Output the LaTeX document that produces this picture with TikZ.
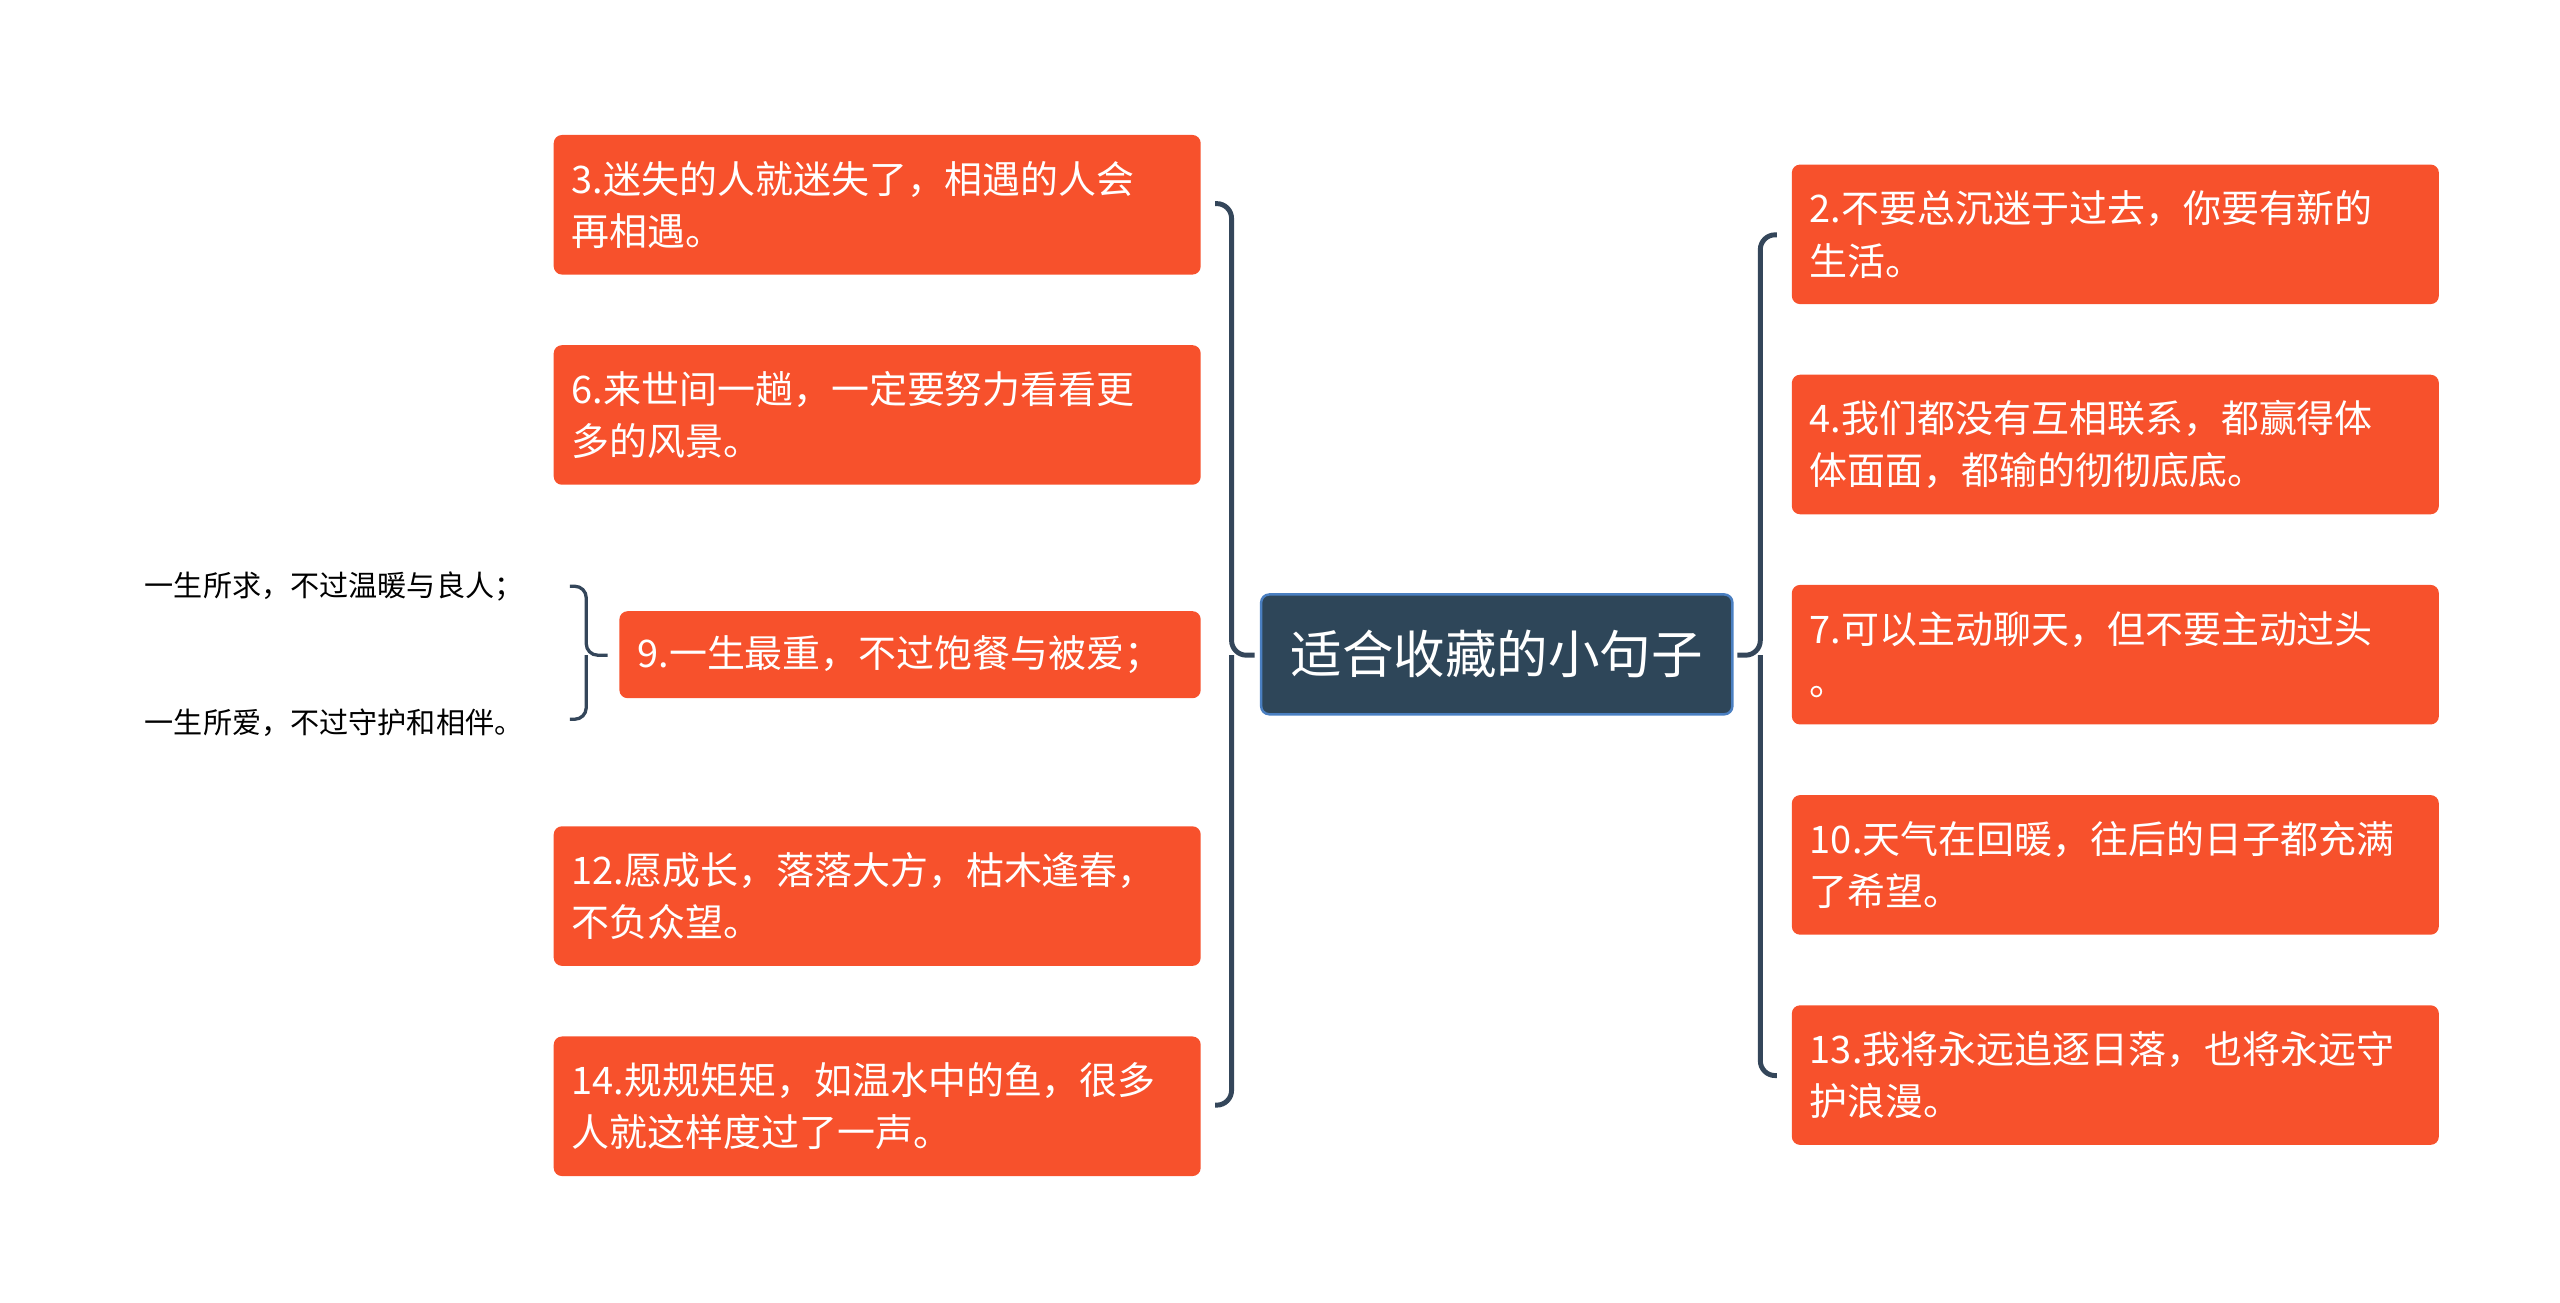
\documentclass[tikz,border=0pt]{standalone}
\usepackage{fontspec}
\setmainfont{Noto Sans CJK SC}
\begin{document}
\begin{tikzpicture}[x=1bp,y=-1bp,
 leaf/.style={fill=leafc,rounded corners=5bp,text=white,font=\fontsize{23.2}{32}\selectfont,align=left,anchor=north west,inner xsep=11bp,inner ysep=0pt,minimum height=85bp,text width=372bp},
 br/.style={draw=brc,line width=3bp,rounded corners=9bp},
 side/.style={font=\fontsize{17.8}{20}\selectfont,anchor=west,inner sep=0pt}]
\definecolor{leafc}{HTML}{F7512C}
\definecolor{brc}{HTML}{34465A}
\definecolor{rootc}{HTML}{2E4659}
\useasboundingbox (0,0) rectangle (1559,793);
\node[fill=rootc,draw={rgb,255:red,74;green,127;blue,193},line width=1.5bp,rounded corners=5bp,text=white,font=\fontsize{31.5}{36}\selectfont,minimum width=287bp,minimum height=73bp] (root) at (911.5,398.5) {适合收藏的小句子};
\node[leaf] (l1) at (337,82) {3.迷失的人就迷失了，相遇的人会\\再相遇。};
\node[leaf] (l2) at (337,210) {6.来世间一趟，一定要努力看看更\\多的风景。};
\node[leaf,minimum height=53bp,text width=332bp] (l3) at (377,372) {9.一生最重，不过饱餐与被爱；};
\node[leaf] (l4) at (337,503) {12.愿成长，落落大方，枯木逢春，\\不负众望。};
\node[leaf] (l5) at (337,631) {14.规规矩矩，如温水中的鱼，很多\\人就这样度过了一声。};
\node[leaf] (r1) at (1091,100) {2.不要总沉迷于过去，你要有新的\\生活。};
\node[leaf] (r2) at (1091,228) {4.我们都没有互相联系，都赢得体\\体面面，都输的彻彻底底。};
\node[leaf] (r3) at (1091,356) {7.可以主动聊天，但不要主动过头\\。};
\node[leaf] (r4) at (1091,484) {10.天气在回暖，往后的日子都充满\\了希望。};
\node[leaf] (r5) at (1091,612) {13.我将永远追逐日落，也将永远守\\护浪漫。};
\node[side] (s1) at (88,357) {一生所求，不过温暖与良人；};
\node[side] (s2) at (88,440) {一生所爱，不过守护和相伴。};
\draw[br] (740,124) -- (750,124) -- (750,399) -- (764,399);
\draw[br] (740,673) -- (750,673) -- (750,399);
\draw[br] (1082,143) -- (1072,143) -- (1072,399) -- (1058,399);
\draw[br] (1082,655) -- (1072,655) -- (1072,399);
\draw[draw=brc,line width=2bp,rounded corners=7bp] (347,357) -- (357,357) -- (357,399) -- (370,399);
\draw[draw=brc,line width=2bp,rounded corners=7bp] (347,438) -- (357,438) -- (357,399);
\end{tikzpicture}
\end{document}
